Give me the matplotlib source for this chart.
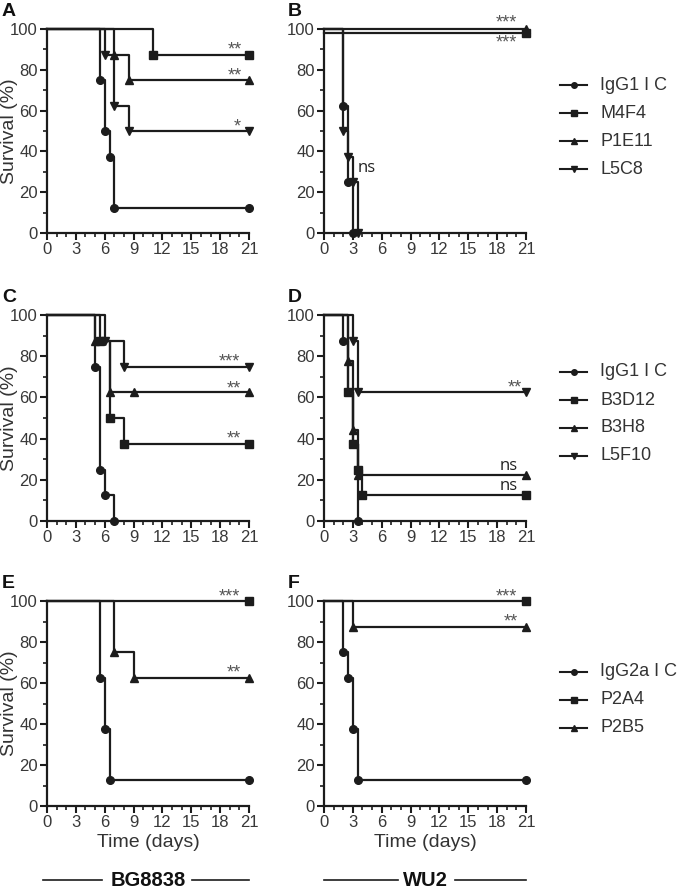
import matplotlib.pyplot as plt
from matplotlib.lines import Line2D
from matplotlib.ticker import MultipleLocator, FixedLocator

plt.rcParams['font.family'] = ['Liberation Sans', 'DejaVu Sans']

W, H = 678, 889

# ---- data: days (step times) and survival (%) ----
# panel A (BG8838)
A_igg1_t = [0, 5.5, 6, 6.5, 7, 21]
A_igg1_s = [100, 75, 50, 37.5, 12.5, 12.5]
A_m4f4_t = [0, 11, 21]
A_m4f4_s = [100, 87.5, 87.5]
A_p1e11_t = [0, 7, 8.5, 21]
A_p1e11_s = [100, 87.5, 75, 75]
A_l5c8_t = [0, 6, 7, 8.5, 21]
A_l5c8_s = [100, 87.5, 62.5, 50, 50]

# panel B (WU2)
B_igg1_t = [0, 2, 2.5, 3]
B_igg1_s = [100, 62.5, 25, 0]
B_m4f4_t = [0, 21]
B_m4f4_s = [98, 98]
B_p1e11_t = [0, 21]
B_p1e11_s = [100, 100]
B_l5c8_t = [0, 2, 2.5, 3, 3.5]
B_l5c8_s = [100, 50, 37.5, 25, 0]

# panel C (BG8838)
C_igg1_t = [0, 5, 5.5, 6, 7]
C_igg1_s = [100, 75, 25, 12.5, 0]
C_b3d12_t = [0, 5.5, 6.5, 8, 21]
C_b3d12_s = [100, 87.5, 50, 37.5, 37.5]
C_b3h8_t = [0, 5, 6.5, 9, 21]
C_b3h8_s = [100, 87.5, 62.5, 62.5, 62.5]
C_l5f10_t = [0, 6, 8, 21]
C_l5f10_s = [100, 87.5, 75, 75]

# panel D (WU2)
D_igg1_t = [0, 2, 2.5, 3, 3.5]
D_igg1_s = [100, 87.5, 62.5, 37.5, 0]
D_b3d12_t = [0, 2.5, 3, 3.5, 4, 21]
D_b3d12_s = [100, 62.5, 37.5, 25, 12.5, 12.5]
D_b3h8_t = [0, 2.5, 3, 3.5, 21]
D_b3h8_s = [100, 77.8, 44.4, 22.2, 22.2]
D_l5f10_t = [0, 3, 3.5, 21]
D_l5f10_s = [100, 87.5, 62.5, 62.5]

# panel E (BG8838)
E_igg2a_t = [0, 5.5, 6, 6.5, 21]
E_igg2a_s = [100, 62.5, 37.5, 12.5, 12.5]
E_p2a4_t = [0, 21]
E_p2a4_s = [100, 100]
E_p2b5_t = [0, 7, 9, 21]
E_p2b5_s = [100, 75, 62.5, 62.5]

# panel F (WU2)
F_igg2a_t = [0, 2, 2.5, 3, 3.5, 21]
F_igg2a_s = [100, 75, 62.5, 37.5, 12.5, 12.5]
F_p2a4_t = [0, 21]
F_p2a4_s = [100, 100]
F_p2b5_t = [0, 3, 21]
F_p2b5_s = [100, 87.5, 87.5]

legend1 = ["IgG1 I C", "M4F4", "P1E11", "L5C8"]
legend2 = ["IgG1 I C", "B3D12", "B3H8", "L5F10"]
legend3 = ["IgG2a I C", "P2A4", "P2B5"]
markers4 = ['o', 's', '^', 'v']
markers3 = ['o', 's', '^']

LC = '#1c1c1c'

fig = plt.figure(figsize=(W / 100, H / 100), dpi=100)


def ax_at(x0, y0, x1, y1):
    return fig.add_axes([x0 / W, 1 - y1 / H, (x1 - x0) / W, (y1 - y0) / H])


def km(ax, t, s, marker):
    ax.plot(t, s, drawstyle='steps-post', color=LC, lw=1.6, clip_on=False, zorder=3)
    ax.plot(t[1:], s[1:], ls='none', marker=marker, ms=5.5, color=LC, clip_on=False, zorder=4)


def style(ax, ylabel=True, xlabel=False):
    ax.set_xlim(0, 21)
    ax.set_ylim(0, 100)
    ax.xaxis.set_major_locator(MultipleLocator(3))
    ax.xaxis.set_minor_locator(MultipleLocator(1))
    ax.yaxis.set_major_locator(MultipleLocator(20))
    ax.yaxis.set_minor_locator(FixedLocator([10, 30, 50, 70, 90]))
    for sp in ['top', 'right']:
        ax.spines[sp].set_visible(False)
    for sp in ['left', 'bottom']:
        ax.spines[sp].set_linewidth(1.6)
        ax.spines[sp].set_color(LC)
    ax.tick_params(which='major', direction='out', length=5, width=1.5, labelsize=12,
                   colors=LC, labelcolor='#383838', pad=1.5)
    ax.tick_params(which='minor', direction='out', length=2.8, width=1.2, colors=LC)
    ax.patch.set_alpha(0)
    if ylabel:
        ax.set_ylabel("Survival (%)", fontsize=14, color='#333333', va='center')
        ax.yaxis.set_label_coords(-0.185, 0.5)
    if xlabel:
        ax.set_xlabel("Time (days)", fontsize=14, color='#333333', labelpad=3)


def star(ax, x, y, txt, ha='center', va='bottom', size=13, color='#555555', family=None):
    ax.text(x, y, txt, ha=ha, va=va, fontsize=size, color=color, clip_on=False,
            family=family if family else plt.rcParams['font.family'])


# ---- panel A ----
axA = ax_at(47, 29, 249, 233)
km(axA, A_igg1_t, A_igg1_s, 'o')
km(axA, A_m4f4_t, A_m4f4_s, 's')
km(axA, A_p1e11_t, A_p1e11_s, '^')
km(axA, A_l5c8_t, A_l5c8_s, 'v')
style(axA)
star(axA, 19.5, 85.5, "**")
star(axA, 19.5, 73, "**")
star(axA, 19.8, 48, "*")

# ---- panel B ----
axB = ax_at(324, 29, 526, 233)
km(axB, B_igg1_t, B_igg1_s, 'o')
km(axB, B_m4f4_t, B_m4f4_s, 's')
km(axB, B_p1e11_t, B_p1e11_s, '^')
km(axB, B_l5c8_t, B_l5c8_s, 'v')
style(axB, ylabel=False)
star(axB, 19.0, 99.0, "***")
star(axB, 19.0, 97.5, "***", va='top')
star(axB, 3.5, 32, "ns", ha='left', va='center', size=12, color='#222222', family=['Open Sans'])

# ---- panel C ----
axC = ax_at(47, 315, 249, 521)
km(axC, C_igg1_t, C_igg1_s, 'o')
km(axC, C_b3d12_t, C_b3d12_s, 's')
km(axC, C_b3h8_t, C_b3h8_s, '^')
km(axC, C_l5f10_t, C_l5f10_s, 'v')
style(axC)
star(axC, 19.0, 73, "***")
star(axC, 19.4, 60, "**")
star(axC, 19.4, 35.5, "**")

# ---- panel D ----
axD = ax_at(324, 315, 526, 521)
km(axD, D_igg1_t, D_igg1_s, 'o')
km(axD, D_b3d12_t, D_b3d12_s, 's')
km(axD, D_b3h8_t, D_b3h8_s, '^')
km(axD, D_l5f10_t, D_l5f10_s, 'v')
style(axD, ylabel=False)
star(axD, 19.8, 60.5, "**")
star(axD, 19.2, 22.8, "ns", size=12, color='#222222', family=['Open Sans'])
star(axD, 19.2, 13.1, "ns", size=12, color='#222222', family=['Open Sans'])

# ---- panel E ----
axE = ax_at(47, 601, 249, 806)
km(axE, E_igg2a_t, E_igg2a_s, 'o')
km(axE, E_p2a4_t, E_p2a4_s, 's')
km(axE, E_p2b5_t, E_p2b5_s, '^')
style(axE, xlabel=True)
star(axE, 19.0, 98, "***")
star(axE, 19.4, 60.5, "**")

# ---- panel F ----
axF = ax_at(324, 601, 526, 806)
km(axF, F_igg2a_t, F_igg2a_s, 'o')
km(axF, F_p2a4_t, F_p2a4_s, 's')
km(axF, F_p2b5_t, F_p2b5_s, '^')
style(axF, ylabel=False, xlabel=True)
star(axF, 19.0, 98, "***")
star(axF, 19.4, 85.5, "**")


def ftext(x, y, s, **kw):
    fig.text(x / W, 1 - y / H, s, **kw)


def fline(x0, x1, y, **kw):
    fig.add_artist(Line2D([x0 / W, x1 / W], [1 - y / H, 1 - y / H], color=LC, **kw))


# panel letters
for lab, (x, y) in zip("ABCDEF", [(2, 12), (288, 12), (2, 298), (288, 298), (2, 583), (288, 583)]):
    ftext(x, y, lab, fontsize=14, fontweight='bold', va='center', ha='left', color='#111111')


# legends
def legend(labels, marks, y0):
    for i, (lab, m) in enumerate(zip(labels, marks)):
        y = y0 + i * 28
        fline(560, 587, y, lw=1.5)
        fig.add_artist(Line2D([573.5 / W], [1 - y / H], color=LC, marker=m, ms=4, ls='none'))
        ftext(600, y, lab, fontsize=13, va='center', ha='left', color='#333333')


legend(legend1, markers4, 85)
legend(legend2, markers4, 372)
legend(legend3, markers3, 672)

# strain labels
ftext(148, 880, "BG8838", fontsize=14.5, fontweight='bold', ha='center', va='center', color='#111111')
fline(43, 102, 880, lw=1.2)
fline(192, 249, 880, lw=1.2)
ftext(425, 880, "WU2", fontsize=14.5, fontweight='bold', ha='center', va='center', color='#111111')
fline(324, 398, 880, lw=1.2)
fline(455, 526, 880, lw=1.2)

fig.savefig("out.png", dpi=100, facecolor='white')
